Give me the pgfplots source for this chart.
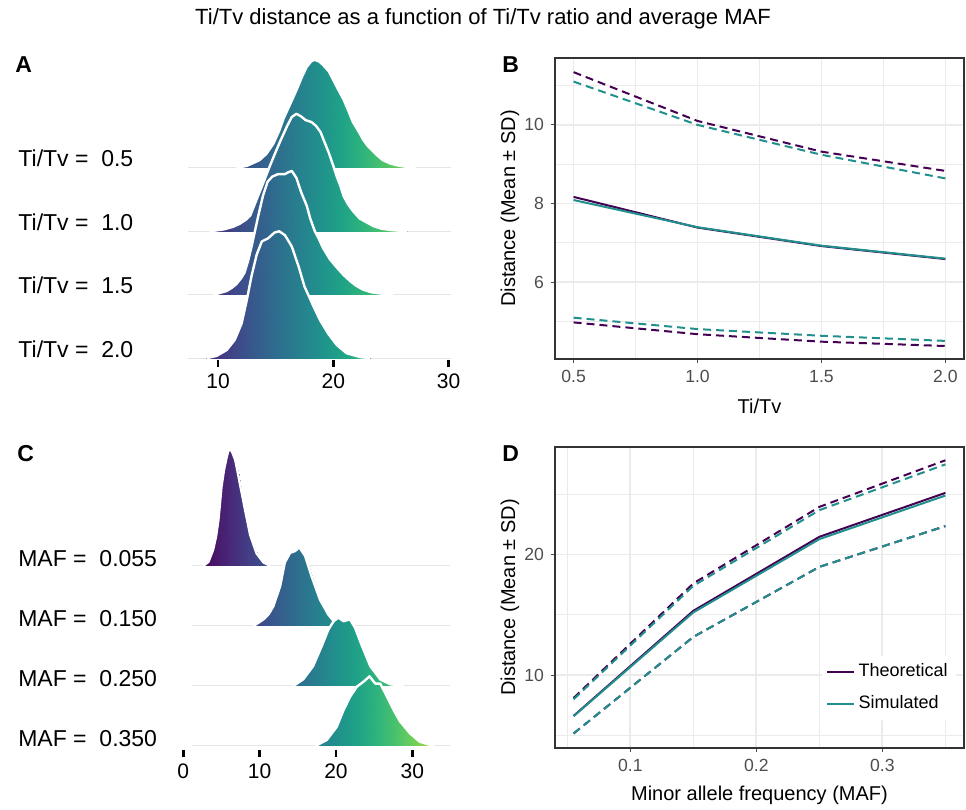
\documentclass[border=0pt]{standalone}
\usepackage{pgfplots}
\pgfplotsset{compat=1.18}
\usepackage{fontspec}
\setmainfont{Liberation Sans}
\definecolor{theo}{HTML}{440154}
\definecolor{simu}{HTML}{21908C}
\definecolor{gridc}{HTML}{EBEBEB}
\definecolor{tickc}{HTML}{4D4D4D}
\definecolor{framec}{HTML}{333333}
\pgfplotsset{
  ggbox/.style={
    scale only axis, width=204.5pt, height=150.5pt, anchor=south west,
    axis line style={draw=framec, line width=0.6pt},
    grid=both,
    major grid style={draw=gridc, line width=0.9pt},
    minor grid style={draw=gridc, line width=0.45pt},
    tick align=outside, tick pos=left,
    major tick length=2pt, minor tick length=0pt,
    every tick/.append style={draw=tickc, line width=0.5pt},
    ticklabel style={font=\fontsize{8.8}{10}\selectfont, text=tickc},
    /pgf/number format/assume math mode=true,
    label style={font=\fontsize{10.5}{12}\selectfont},
    every axis y label/.style={at={(axis description cs:-0.11,0.5)}, rotate=90, anchor=center},
    every axis x label/.style={at={(axis description cs:0.5,-0.158)}, anchor=center},
  },
  ridge/.style={
    scale only axis, anchor=south west,
    axis line style={draw=none},
    tick align=outside, tick pos=left,
    major tick length=3.5pt,
    xtick style={draw=black, line width=1.4pt},
    ytick style={draw=none},
    xticklabel style={font=\fontsize{10.5}{12}\selectfont, text=black},
    yticklabel style={font=\fontsize{11.5}{13}\selectfont, text=black},
    /pgf/number format/assume math mode=true,
    colormap/viridis,
  },
  ridgefill/.style={surf, shader=interp, mesh/rows=2, point meta=x},
  ridgeline/.style={white, line width=1.2pt, line join=round},
  baseln/.style={gray!20, line width=0.5pt},
  meanl/.style={line width=1pt},
  sdl/.style={line width=1pt, dash pattern=on 4pt off 2.5pt},
}
\begin{document}
\begin{tikzpicture}
\path[use as bounding box] (0pt,0pt) rectangle (483pt,405pt);
\node[anchor=base, inner sep=0pt, font=\fontsize{11}{13}\selectfont] at (241.5pt,392.5pt) {Ti/Tv distance as a function of Ti/Tv ratio and average MAF};
\node[anchor=base west, inner sep=0pt, font=\fontsize{11.5}{13}\selectfont\bfseries] at (7.5pt,368.5pt) {A};
\node[anchor=base west, inner sep=0pt, font=\fontsize{11.5}{13}\selectfont\bfseries] at (251pt,368.5pt) {B};
\node[anchor=base west, inner sep=0pt, font=\fontsize{11.5}{13}\selectfont\bfseries] at (8.5pt,174pt) {C};
\node[anchor=base west, inner sep=0pt, font=\fontsize{11.5}{13}\selectfont\bfseries] at (251pt,174pt) {D};

% ---------------- Panel A ----------------
\begin{axis}[ridge, at={(80.18pt,224.9pt)}, width=155.67pt, height=154.95pt,
  xmin=5, xmax=32, ymin=-0.03, ymax=4.85,
  xtick={10,20,30}, ytick={0.148,1.148,2.148,3.148},
  yticklabels={Ti/Tv =\ \ 2.0, Ti/Tv =\ \ 1.5, Ti/Tv =\ \ 1.0, Ti/Tv =\ \ 0.5},
  yticklabel style={xshift=-6.5pt},
  point meta min=6, point meta max=31.5]
% Ti/Tv = 0.5
\addplot[baseln] coordinates {(7.4,3) (30.2,3)};
\addplot[ridgefill] coordinates {
(11.6,3) (12.5,3) (13.6,3) (14.2,3) (14.8,3) (15.3,3) (15.7,3) (16.3,3) (16.8,3) (17.3,3) (17.7,3) (18.1,3) (18.4,3) (18.8,3) (19.1,3) (19.6,3) (20.0,3) (20.4,3) (20.9,3) (21.3,3) (21.7,3) (22.2,3) (22.6,3) (23.0,3) (23.5,3) (23.9,3) (24.3,3) (24.9,3) (25.5,3) (26.3,3) (27.2,3)
(11.6,3) (12.5,3.03) (13.6,3.12) (14.2,3.22) (14.8,3.38) (15.3,3.58) (15.7,3.78) (16.3,4.02) (16.8,4.22) (17.3,4.44) (17.7,4.59) (18.1,4.68) (18.4,4.70) (18.8,4.67) (19.1,4.62) (19.6,4.52) (20.0,4.38) (20.4,4.24) (20.9,4.07) (21.3,3.90) (21.7,3.72) (22.2,3.57) (22.6,3.44) (23.0,3.34) (23.5,3.25) (23.9,3.18) (24.3,3.12) (24.9,3.07) (25.5,3.04) (26.3,3.015) (27.2,3)};
\addplot[ridgeline] coordinates {(11.6,3) (12.5,3.03) (13.6,3.12) (14.2,3.22) (14.8,3.38) (15.3,3.58) (15.7,3.78) (16.3,4.02) (16.8,4.22) (17.3,4.44) (17.7,4.59) (18.1,4.68) (18.4,4.70) (18.8,4.67) (19.1,4.62) (19.6,4.52) (20.0,4.38) (20.4,4.24) (20.9,4.07) (21.3,3.90) (21.7,3.72) (22.2,3.57) (22.6,3.44) (23.0,3.34) (23.5,3.25) (23.9,3.18) (24.3,3.12) (24.9,3.07) (25.5,3.04) (26.3,3.015) (27.2,3)};
% Ti/Tv = 1.0
\addplot[baseln] coordinates {(7.4,2) (30.2,2)};
\addplot[ridgefill] coordinates {
(9.3,2) (10.5,2) (11.3,2) (11.9,2) (12.4,2) (12.8,2) (13.3,2) (13.9,2) (14.5,2) (15.0,2) (15.4,2) (16.0,2) (16.4,2) (16.8,2) (17.2,2) (17.6,2) (18.1,2) (18.5,2) (18.9,2) (19.2,2) (19.6,2) (20.0,2) (20.3,2) (20.6,2) (20.9,2) (21.3,2) (21.7,2) (22.3,2) (22.9,2) (23.5,2) (24.2,2) (25.0,2) (26.4,2)
(9.3,2) (10.5,2.03) (11.3,2.07) (11.9,2.12) (12.4,2.18) (12.8,2.25) (13.3,2.48) (13.9,2.75) (14.5,3.03) (15.0,3.25) (15.4,3.42) (16.0,3.66) (16.4,3.80) (16.8,3.85) (17.2,3.81) (17.6,3.75) (18.1,3.72) (18.5,3.66) (18.9,3.56) (19.2,3.42) (19.6,3.24) (20.0,3.03) (20.3,2.86) (20.6,2.72) (20.9,2.55) (21.3,2.42) (21.7,2.32) (22.3,2.20) (22.9,2.14) (23.5,2.08) (24.2,2.04) (25.0,2.02) (26.4,2)};
\addplot[ridgeline] coordinates {(9.3,2) (10.5,2.03) (11.3,2.07) (11.9,2.12) (12.4,2.18) (12.8,2.25) (13.3,2.48) (13.9,2.75) (14.5,3.03) (15.0,3.25) (15.4,3.42) (16.0,3.66) (16.4,3.80) (16.8,3.85) (17.2,3.81) (17.6,3.75) (18.1,3.72) (18.5,3.66) (18.9,3.56) (19.2,3.42) (19.6,3.24) (20.0,3.03) (20.3,2.86) (20.6,2.72) (20.9,2.55) (21.3,2.42) (21.7,2.32) (22.3,2.20) (22.9,2.14) (23.5,2.08) (24.2,2.04) (25.0,2.02) (26.4,2)};
% Ti/Tv = 1.5
\addplot[baseln] coordinates {(7.4,1) (30.2,1)};
\addplot[ridgefill] coordinates {
(9.6,1) (10.2,1) (10.75,1) (11.2,1) (11.6,1) (12.0,1) (12.3,1) (12.6,1) (12.9,1) (13.2,1) (13.5,1) (13.9,1) (14.3,1) (14.7,1) (15.2,1) (15.8,1) (16.1,1) (16.4,1) (16.8,1) (17.2,1) (17.7,1) (18.0,1) (18.4,1) (18.8,1) (19.1,1) (19.7,1) (20.3,1) (20.9,1) (21.5,1) (22.0,1) (22.6,1) (23.3,1) (24.1,1) (25.2,1)
(9.6,1) (10.2,1.03) (10.75,1.06) (11.2,1.11) (11.6,1.17) (12.0,1.26) (12.3,1.35) (12.6,1.53) (12.9,1.75) (13.2,2.00) (13.5,2.25) (13.9,2.56) (14.3,2.78) (14.7,2.86) (15.2,2.90) (15.8,2.90) (16.1,2.93) (16.4,2.95) (16.8,2.84) (17.2,2.62) (17.7,2.40) (18.0,2.20) (18.4,2.00) (18.8,1.86) (19.1,1.74) (19.7,1.56) (20.3,1.43) (20.9,1.31) (21.5,1.21) (22.0,1.14) (22.6,1.08) (23.3,1.04) (24.1,1.02) (25.2,1)};
\addplot[ridgeline] coordinates {(9.6,1) (10.2,1.03) (10.75,1.06) (11.2,1.11) (11.6,1.17) (12.0,1.26) (12.3,1.35) (12.6,1.53) (12.9,1.75) (13.2,2.00) (13.5,2.25) (13.9,2.56) (14.3,2.78) (14.7,2.86) (15.2,2.90) (15.8,2.90) (16.1,2.93) (16.4,2.95) (16.8,2.84) (17.2,2.62) (17.7,2.40) (18.0,2.20) (18.4,2.00) (18.8,1.86) (19.1,1.74) (19.7,1.56) (20.3,1.43) (20.9,1.31) (21.5,1.21) (22.0,1.14) (22.6,1.08) (23.3,1.04) (24.1,1.02) (25.2,1)};
% Ti/Tv = 2.0
\addplot[baseln] coordinates {(7.4,0) (30.2,0)};
\addplot[ridgefill] coordinates {
(9.0,0) (9.9,0) (10.75,0) (11.45,0) (12.05,0) (12.5,0) (12.9,0) (13.35,0) (13.8,0) (14.35,0) (14.9,0) (15.3,0) (15.8,0) (16.4,0) (17.0,0) (17.5,0) (18.3,0) (18.85,0) (19.55,0) (20.3,0) (21.15,0) (22.3,0) (23.2,0)
(9.0,0) (9.9,0.04) (10.75,0.13) (11.45,0.29) (12.05,0.55) (12.5,0.92) (12.9,1.29) (13.35,1.63) (13.8,1.84) (14.35,1.89) (14.9,1.98) (15.3,2.00) (15.8,1.94) (16.4,1.76) (17.0,1.44) (17.5,1.13) (18.3,0.81) (18.85,0.60) (19.55,0.39) (20.3,0.21) (21.15,0.08) (22.3,0.02) (23.2,0)};
\addplot[ridgeline] coordinates {(9.0,0) (9.9,0.04) (10.75,0.13) (11.45,0.29) (12.05,0.55) (12.5,0.92) (12.9,1.29) (13.35,1.63) (13.8,1.84) (14.35,1.89) (14.9,1.98) (15.3,2.00) (15.8,1.94) (16.4,1.76) (17.0,1.44) (17.5,1.13) (18.3,0.81) (18.85,0.60) (19.55,0.39) (20.3,0.21) (21.15,0.08) (22.3,0.02) (23.2,0)};
\end{axis}

% ---------------- Panel C ----------------
\begin{axis}[ridge, at={(87.85pt,30pt)}, width=141.2pt, height=152pt,
  xmin=-1, xmax=36, ymin=-0.067, ymax=5.0,
  xtick={0,10,20,30}, ytick={0.128,1.128,2.128,3.128},
  yticklabels={MAF =\ \ 0.350, MAF =\ \ 0.250, MAF =\ \ 0.150, MAF =\ \ 0.055},
  yticklabel style={xshift=-2.3pt},
  point meta min=2, point meta max=38]
% MAF = 0.055
\addplot[baseln] coordinates {(1.1,3) (35,3)};
\addplot[ridgefill] coordinates {
(2.6,3) (3.3,3) (3.9,3) (4.3,3) (4.6,3) (5.0,3) (5.3,3) (5.6,3) (5.85,3) (6.1,3) (6.4,3) (6.8,3) (7.1,3) (7.4,3) (8.1,3) (8.75,3) (9.6,3) (10.5,3) (11.4,3)
(2.6,3) (3.3,3.07) (3.9,3.27) (4.3,3.50) (4.6,3.77) (5.0,4.32) (5.3,4.58) (5.6,4.77) (5.85,4.90) (6.1,4.96) (6.4,4.90) (6.8,4.77) (7.1,4.58) (7.4,4.38) (8.1,3.93) (8.75,3.52) (9.6,3.21) (10.5,3.06) (11.4,3)};
\addplot[ridgeline] coordinates {(2.6,3) (3.3,3.07) (3.9,3.27) (4.3,3.50) (4.6,3.77) (5.0,4.32) (5.3,4.58) (5.6,4.77) (5.85,4.90) (6.1,4.96) (6.4,4.90) (6.8,4.77) (7.1,4.58) (7.4,4.38) (8.1,3.93) (8.75,3.52) (9.6,3.21) (10.5,3.06) (11.4,3)};
% MAF = 0.150
\addplot[baseln] coordinates {(1.1,2) (35,2)};
\addplot[ridgefill] coordinates {
(9.2,2) (10.5,2) (11.2,2) (11.8,2) (12.7,2) (13.3,2) (14.0,2) (14.65,2) (15.2,2) (15.95,2) (16.8,2) (17.9,2) (19.0,2) (19.7,2) (20.6,2) (21.8,2)
(9.2,2) (10.5,2.11) (11.2,2.20) (11.8,2.33) (12.7,2.67) (13.3,3.06) (14.0,3.22) (14.65,3.25) (15.2,3.31) (15.95,3.17) (16.8,2.83) (17.9,2.44) (19.0,2.19) (19.7,2.08) (20.6,2.03) (21.8,2)};
\addplot[ridgeline] coordinates {(9.2,2) (10.5,2.11) (11.2,2.20) (11.8,2.33) (12.7,2.67) (13.3,3.06) (14.0,3.22) (14.65,3.25) (15.2,3.31) (15.95,3.17) (16.8,2.83) (17.9,2.44) (19.0,2.19) (19.7,2.08) (20.6,2.03) (21.8,2)};
% MAF = 0.250
\addplot[baseln] coordinates {(1.1,1) (35,1)};
\addplot[ridgefill] coordinates {
(14.4,1) (15.7,1) (17.0,1) (18.15,1) (19.0,1) (19.7,1) (20.3,1) (21.0,1) (21.85,1) (22.5,1) (23.4,1) (24.5,1) (25.8,1) (27.1,1) (28.9,1)
(14.4,1) (15.7,1.11) (17.0,1.33) (18.15,1.67) (19.0,1.94) (19.7,2.08) (20.3,2.14) (21.0,2.08) (21.85,2.11) (22.5,1.97) (23.4,1.67) (24.5,1.33) (25.8,1.11) (27.1,1.03) (28.9,1)};
\addplot[ridgeline] coordinates {(14.4,1) (15.7,1.11) (17.0,1.33) (18.15,1.67) (19.0,1.94) (19.7,2.08) (20.3,2.14) (21.0,2.08) (21.85,2.11) (22.5,1.97) (23.4,1.67) (24.5,1.33) (25.8,1.11) (27.1,1.03) (28.9,1)};
% MAF = 0.350
\addplot[baseln] coordinates {(1.1,0) (35,0)};
\addplot[ridgefill] coordinates {
(17.3,0) (18.8,0) (20.1,0) (21.0,0) (21.85,0) (22.75,0) (23.6,0) (24.4,0) (25.15,0) (25.8,0) (26.7,0) (27.55,0) (28.4,0) (29.7,0) (31.0,0) (32.8,0)
(17.3,0) (18.8,0.10) (20.1,0.32) (21.0,0.60) (21.85,0.82) (22.75,0.99) (23.6,1.07) (24.4,1.16) (25.15,1.04) (25.8,1.04) (26.7,0.82) (27.55,0.60) (28.4,0.41) (29.7,0.21) (31.0,0.07) (32.8,0)};
\addplot[ridgeline] coordinates {(17.3,0) (18.8,0.10) (20.1,0.32) (21.0,0.60) (21.85,0.82) (22.75,0.99) (23.6,1.07) (24.4,1.16) (25.15,1.04) (25.8,1.04) (26.7,0.82) (27.55,0.60) (28.4,0.41) (29.7,0.21) (31.0,0.07) (32.8,0)};
\end{axis}

% ---------------- Panel B ----------------
\begin{axis}[ggbox, at={(277.5pt,225.5pt)},
  xmin=0.425, xmax=2.075, ymin=4.05, ymax=11.7,
  xtick={0.5,1,1.5,2}, xticklabels={0.5,1.0,1.5,2.0},
  minor xtick={0.75,1.25,1.75},
  ytick={6,8,10}, minor ytick={5,7,9,11},
  xlabel={Ti/Tv}, ylabel={Distance (Mean ± SD)}]
\addplot[theo, sdl] coordinates {(0.5,11.34) (1,10.10) (1.5,9.32) (2,8.83)};
\addplot[simu, sdl] coordinates {(0.5,11.10) (1,10.00) (1.5,9.24) (2,8.64)};
\addplot[theo, sdl] coordinates {(0.5,4.98) (1,4.68) (1.5,4.49) (2,4.38)};
\addplot[simu, sdl] coordinates {(0.5,5.10) (1,4.81) (1.5,4.64) (2,4.51)};
\addplot[theo, meanl] coordinates {(0.5,8.17) (1,7.39) (1.5,6.92) (2,6.59)};
\addplot[simu, meanl] coordinates {(0.5,8.09) (1,7.40) (1.5,6.93) (2,6.60)};
\end{axis}

% ---------------- Panel D ----------------
\begin{axis}[ggbox, at={(277.5pt,31pt)},
  xmin=0.04025, xmax=0.36475, ymin=3.97, ymax=28.9,
  xtick={0.1,0.2,0.3}, xticklabels={0.1,0.2,0.3},
  minor xtick={0.05,0.15,0.25,0.35},
  ytick={10,20}, minor ytick={5,15,25},
  xlabel={Minor allele frequency (MAF)}, ylabel={Distance (Mean ± SD)},
  legend style={at={(axis description cs:0.652,0.308)}, anchor=north west,
    draw=none, fill=white, inner sep=2pt, row sep=4pt,
    font=\fontsize{9}{10}\selectfont, cells={anchor=west}},
  legend image code/.code={\draw[#1] (0pt,0pt) -- (13.3pt,0pt);}]
\addplot[theo, sdl, forget plot] coordinates {(0.055,8.11) (0.15,17.6) (0.25,23.94) (0.35,27.8)};
\addplot[simu, sdl, forget plot] coordinates {(0.055,8.0) (0.15,17.4) (0.25,23.67) (0.35,27.46)};
\addplot[theo, sdl, forget plot] coordinates {(0.055,5.17) (0.15,13.17) (0.25,18.97) (0.35,22.35)};
\addplot[simu, sdl, forget plot] coordinates {(0.055,5.17) (0.15,13.17) (0.25,18.97) (0.35,22.35)};
\addplot[theo, meanl] coordinates {(0.055,6.63) (0.15,15.33) (0.25,21.46) (0.35,25.1)};
\addlegendentry{Theoretical}
\addplot[simu, meanl] coordinates {(0.055,6.6) (0.15,15.2) (0.25,21.27) (0.35,24.88)};
\addlegendentry{Simulated}
\end{axis}
\end{tikzpicture}
\end{document}
